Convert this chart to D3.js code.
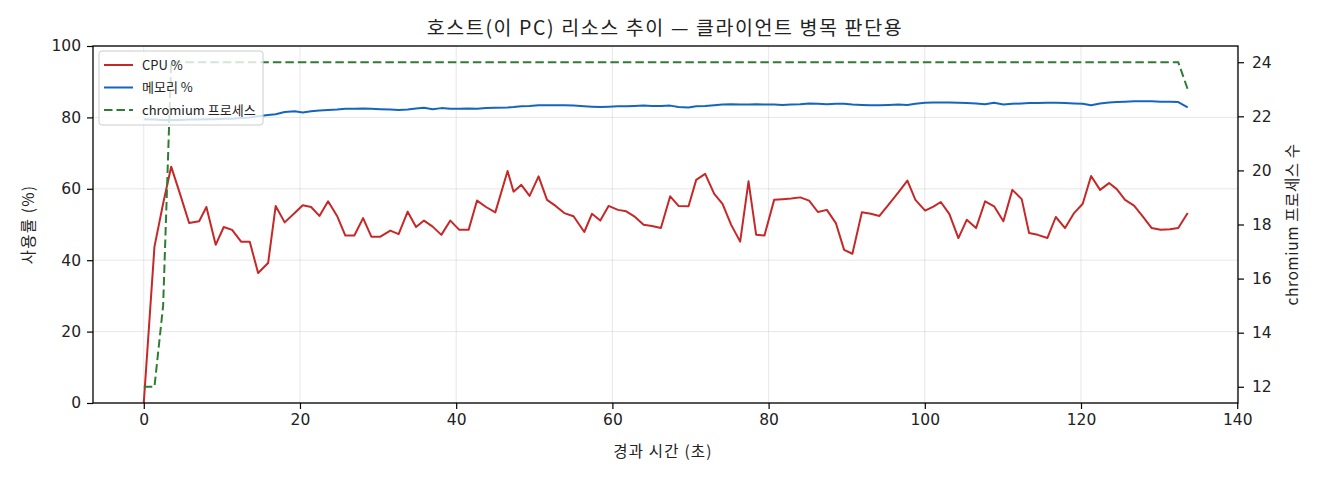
<!DOCTYPE html>
<html>
<head>
<meta charset="utf-8">
<script src="https://cdn.jsdelivr.net/npm/d3@7"></script>
<style>
  body { margin: 0; background: #fff; }
  svg text { font-family: "Noto Sans CJK KR", "Noto Sans", sans-serif; fill: #222; }
</style>
</head>
<body>
<div id="chart"></div>
<script>
// elapsed seconds per sample
const times = [
  0, 1.37, 2.48, 3.51, 4.61, 5.81, 7.09, 8.02, 9.21, 10.24,
  11.31, 12.46, 13.57, 14.64, 15.92, 16.89, 18.04, 19.32, 20.35, 21.42,
  22.49, 23.60, 24.75, 25.81, 26.96, 28.08, 29.14, 30.29, 31.57, 32.63,
  33.79, 34.86, 35.88, 36.99, 38.10, 39.25, 40.40, 41.59, 42.67, 43.82,
  45.01, 46.58, 47.35, 48.34, 49.40, 50.55, 51.63, 52.73, 53.84, 55.03,
  56.40, 57.38, 58.45, 59.51, 60.71, 61.77, 62.80, 63.99, 65.06, 66.21,
  67.40, 68.47, 69.75, 70.73, 71.88, 73.04, 74.10, 75.21, 76.36, 77.43,
  78.41, 79.47, 80.71, 81.78, 82.89, 84.04, 85.19, 86.31, 87.46, 88.61,
  89.67, 90.73, 91.94, 93.09, 94.19, 95.34, 96.62, 97.77, 98.80, 100.04,
  101.10, 102.05, 103.15, 104.30, 105.37, 106.56, 107.72, 108.87, 110.06, 111.21,
  112.41, 113.35, 114.46, 115.69, 116.77, 117.96, 119.11, 120.22, 121.29, 122.44,
  123.59, 124.58, 125.64, 126.79, 127.90, 129.05, 130.20, 131.39, 132.45, 133.66
];

const cpu = [
  0, 43.8, 55.9, 66.2, 58.8, 50.4, 50.9, 54.9, 44.3, 49.3,
  48.5, 45.2, 45.2, 36.4, 39.2, 55.2, 50.6, 53.2, 55.4, 54.9,
  52.4, 56.5, 52.4, 46.9, 46.9, 51.8, 46.6, 46.6, 48.3, 47.3,
  53.6, 49.3, 51.1, 49.4, 47.1, 51.1, 48.5, 48.5, 56.7, 54.9,
  53.4, 65.0, 59.2, 61.1, 58.0, 63.5, 56.9, 55.2, 53.2, 52.3,
  47.9, 53.0, 51.1, 55.2, 54.1, 53.7, 52.3, 49.9, 49.6, 49.0,
  57.9, 55.2, 55.1, 62.5, 64.2, 58.6, 55.8, 49.9, 45.2, 62.1,
  47.1, 46.9, 56.9, 57.1, 57.3, 57.6, 56.7, 53.5, 54.1, 50.4,
  42.9, 41.8, 53.4, 53.0, 52.4, 55.5, 59.0, 62.3, 56.9, 53.9,
  55.0, 56.3, 52.9, 46.2, 51.3, 49.0, 56.5, 55.1, 50.9, 59.7,
  57.1, 47.6, 47.1, 46.2, 52.1, 49.0, 53.2, 55.8, 63.6, 59.7,
  61.6, 59.9, 56.9, 55.3, 52.3, 49.0, 48.5, 48.7, 49.0, 53.2
];

const memory = [
  79.5, 79.4, 79.3, 79.3, 79.3, 79.4, 79.4, 79.5, 79.5, 79.6,
  79.6, 79.8, 80.0, 80.3, 80.7, 80.9, 81.5, 81.7, 81.4, 81.7,
  81.9, 82.1, 82.2, 82.4, 82.4, 82.5, 82.4, 82.3, 82.2, 82.1,
  82.2, 82.5, 82.7, 82.3, 82.6, 82.4, 82.4, 82.5, 82.4, 82.6,
  82.7, 82.8, 82.9, 83.1, 83.2, 83.4, 83.4, 83.4, 83.4, 83.3,
  83.1, 83.0, 82.9, 83.0, 83.1, 83.1, 83.2, 83.3, 83.2, 83.2,
  83.3, 82.9, 82.8, 83.1, 83.2, 83.4, 83.6, 83.7, 83.6, 83.6,
  83.7, 83.6, 83.6, 83.5, 83.6, 83.7, 83.9, 83.8, 83.7, 83.8,
  83.8, 83.6, 83.5, 83.4, 83.4, 83.5, 83.6, 83.5, 83.8, 84.1,
  84.2, 84.2, 84.2, 84.1, 84.0, 83.9, 83.7, 84.1, 83.6, 83.8,
  83.9, 84.0, 84.0, 84.1, 84.1, 84.0, 83.9, 83.8, 83.4, 83.9,
  84.2, 84.3, 84.4, 84.5, 84.5, 84.5, 84.4, 84.4, 84.3, 82.8
];

const chromium = [
  12, 12, 15, 24, 24, 24, 24, 24, 24, 24,
  24, 24, 24, 24, 24, 24, 24, 24, 24, 24,
  24, 24, 24, 24, 24, 24, 24, 24, 24, 24,
  24, 24, 24, 24, 24, 24, 24, 24, 24, 24,
  24, 24, 24, 24, 24, 24, 24, 24, 24, 24,
  24, 24, 24, 24, 24, 24, 24, 24, 24, 24,
  24, 24, 24, 24, 24, 24, 24, 24, 24, 24,
  24, 24, 24, 24, 24, 24, 24, 24, 24, 24,
  24, 24, 24, 24, 24, 24, 24, 24, 24, 24,
  24, 24, 24, 24, 24, 24, 24, 24, 24, 24,
  24, 24, 24, 24, 24, 24, 24, 24, 24, 24,
  24, 24, 24, 24, 24, 24, 24, 24, 24, 23
];

const xTicks = [0, 20, 40, 60, 80, 100, 120, 140];
const yTicks = [0, 20, 40, 60, 80, 100];
const y2Ticks = [12, 14, 16, 18, 20, 22, 24];

const legendItems = [
  { label: 'CPU %', color: '#c62828', dash: null },
  { label: '메모리 %', color: '#1565c0', dash: null },
  { label: 'chromium 프로세스', color: '#2e7d32', dash: '8.5,4' }
];

const W = 1320, H = 480;
const plot = { left: 93, right: 1238, top: 46, bottom: 403 };

const x = d3.scaleLinear().domain([-6.5, 140.1]).range([plot.left, plot.right]);
const y = d3.scaleLinear().domain([0, 100]).range([plot.bottom, plot.top]);
const y2 = d3.scaleLinear().domain([11.4, 24.6]).range([plot.bottom, plot.top]);

const svg = d3.select('#chart').append('svg')
  .attr('width', W)
  .attr('height', H);

// grid
const grid = svg.append('g').attr('stroke', '#b0b0b0').attr('stroke-opacity', 0.3).attr('stroke-width', 1);
xTicks.forEach(t => {
  grid.append('line')
    .attr('x1', x(t)).attr('x2', x(t))
    .attr('y1', plot.top).attr('y2', plot.bottom);
});
yTicks.forEach(t => {
  grid.append('line')
    .attr('x1', plot.left).attr('x2', plot.right)
    .attr('y1', y(t)).attr('y2', y(t));
});

svg.append('defs').append('clipPath').attr('id', 'clip')
  .append('rect')
  .attr('x', plot.left).attr('y', plot.top)
  .attr('width', plot.right - plot.left).attr('height', plot.bottom - plot.top);

const lines = svg.append('g').attr('clip-path', 'url(#clip)');

const cpuLine = d3.line().x((d, i) => x(times[i])).y(d => y(d));
const chromLine = d3.line().x((d, i) => x(times[i])).y(d => y2(d));

lines.append('path')
  .attr('d', cpuLine(cpu))
  .attr('fill', 'none')
  .attr('stroke', legendItems[0].color)
  .attr('stroke-width', 2)
  .attr('stroke-linejoin', 'round');

lines.append('path')
  .attr('d', cpuLine(memory))
  .attr('fill', 'none')
  .attr('stroke', legendItems[1].color)
  .attr('stroke-width', 2)
  .attr('stroke-linejoin', 'round');

// legend (belongs to the left axes, so the twin line sits above it)
const legend = svg.append('g').attr('transform', 'translate(99,51)');
legend.append('rect')
  .attr('width', 164).attr('height', 74).attr('rx', 3)
  .attr('fill', '#fff').attr('fill-opacity', 0.8)
  .attr('stroke', '#cccccc').attr('stroke-width', 1);
legendItems.forEach((item, i) => {
  const row = legend.append('g').attr('transform', `translate(0,${14 + i * 22.5})`);
  row.append('line')
    .attr('x1', 5).attr('x2', 34)
    .attr('stroke', item.color).attr('stroke-width', 2)
    .attr('stroke-dasharray', item.dash);
  row.append('text')
    .attr('x', 43).attr('dy', '0.35em')
    .style('font-size', '13px')
    .text(item.label);
});

lines.append('path')
  .attr('d', chromLine(chromium))
  .attr('fill', 'none')
  .attr('stroke', legendItems[2].color)
  .attr('stroke-width', 2)
  .attr('stroke-dasharray', '8.5,4');

// axes
const xAxis = svg.append('g')
  .attr('transform', `translate(0,${plot.bottom})`)
  .call(d3.axisBottom(x).tickValues(xTicks).tickSize(6).tickPadding(5).tickFormat(d3.format('d')));
const yAxis = svg.append('g')
  .attr('transform', `translate(${plot.left},0)`)
  .call(d3.axisLeft(y).tickValues(yTicks).tickSize(6).tickPadding(6).tickFormat(d3.format('d')));
const y2Axis = svg.append('g')
  .attr('transform', `translate(${plot.right},0)`)
  .call(d3.axisRight(y2).tickValues(y2Ticks).tickSize(6).tickPadding(8).tickFormat(d3.format('d')));

[xAxis, yAxis, y2Axis].forEach(a => {
  a.select('.domain').remove();
  a.selectAll('.tick line').attr('stroke', '#000').attr('stroke-width', 1.2);
  a.selectAll('.tick text')
    .style('font-family', '"DejaVu Sans", sans-serif')
    .style('font-size', '15.5px')
    .attr('fill', '#222');
});

// spines
svg.append('rect')
  .attr('x', plot.left).attr('y', plot.top)
  .attr('width', plot.right - plot.left).attr('height', plot.bottom - plot.top)
  .attr('fill', 'none').attr('stroke', '#000').attr('stroke-width', 1.3);

// labels
svg.append('text')
  .attr('x', 665).attr('y', 35)
  .attr('text-anchor', 'middle')
  .style('font-size', '19.5px')
  .style('letter-spacing', '1.6px')
  .text('호스트(이 PC) 리소스 추이 — 클라이언트 병목 판단용');

svg.append('text')
  .attr('x', 663).attr('y', 457)
  .attr('text-anchor', 'middle')
  .style('font-size', '15.5px')
  .style('letter-spacing', '1.2px')
  .text('경과 시간 (초)');

svg.append('text')
  .attr('transform', `translate(34,${(plot.top + plot.bottom) / 2}) rotate(-90)`)
  .attr('text-anchor', 'middle')
  .style('font-size', '15.5px')
  .style('letter-spacing', '1.2px')
  .text('사용률 (%)');

svg.append('text')
  .attr('transform', `translate(1298,${(plot.top + plot.bottom) / 2}) rotate(-90)`)
  .attr('text-anchor', 'middle')
  .style('font-size', '15.5px')
  .style('letter-spacing', '0.6px')
  .text('chromium 프로세스 수');
</script>
</body>
</html>
